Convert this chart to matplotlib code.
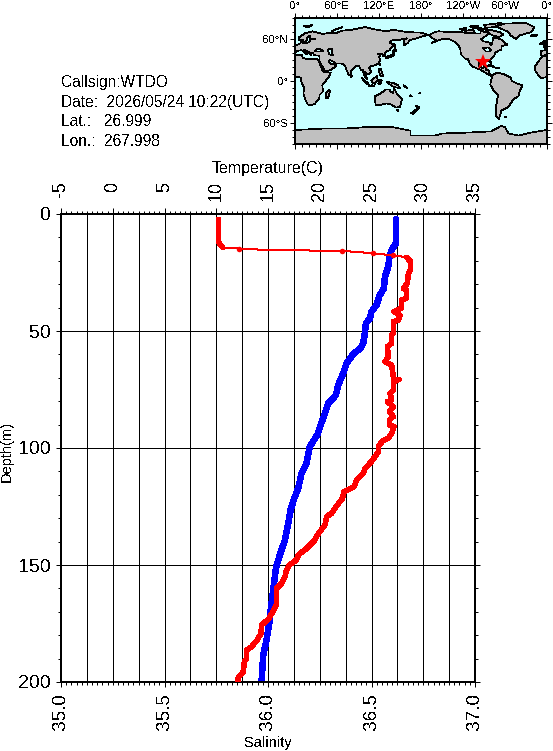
"""
CTD profile plot: temperature and salinity against depth, with a station
map and a small header block above the profile.
"""

import matplotlib
matplotlib.use('Agg')
import matplotlib.pyplot as plt
import numpy as np
from matplotlib.patches import Polygon
from matplotlib.ticker import MultipleLocator

# =============================================================================
# 1. Profile data
# =============================================================================

# Temperature: mixed layer at the surface, sparse thermocline, then the deep part
temp_top = [10.2, 10.2, 10.36, 10.62]
temp_top_depth = [2.3, 11.8, 13.0, 14.25]

temp_mid = [10.62, 12.17, 13.26, 17.45, 22.18, 23.24, 25.18, 27.11, 28.4]
temp_mid_depth = [14.25, 14.8, 15.1, 15.5, 15.8, 16.1, 16.8, 17.7, 18.5]
temp_mid_marks = [12.17, 22.18, 25.18, 27.11]
temp_mid_marks_depth = [14.8, 15.8, 16.8, 17.7]

temp_deep = [28.4, 28.78, 28.78, 28.56, 28.46, 28.07, 28.4, 28.4, 27.9, 27.9,
             27.17, 27.75, 27.59, 27.11, 27.11, 26.95, 26.95, 26.53, 26.63,
             26.3, 26.95, 27.11, 27.11, 27.69, 27.11, 27.11, 26.79, 26.95,
             26.53, 27.11, 26.72, 27.11, 26.72, 26.72, 27.17, 26.95, 26.63,
             26.08, 25.66, 25.66, 25.0, 24.37, 24.2, 23.57, 23.31, 22.34,
             22.2, 21.57, 21.15, 20.67, 20.5, 19.77, 19.54, 18.74, 17.93,
             17.77, 17.06, 16.74, 16.64, 16.32, 15.84, 15.84, 15.58, 15.03,
             14.39, 14.32, 13.97, 13.42, 12.94, 12.94, 12.71, 12.62, 12.13,
             12.07]
temp_deep_depth = [18.5, 20.4, 23.9, 25.4, 29.6, 31.8, 32.5, 36.0, 36.8, 40.3,
                   41.7, 43.2, 45.3, 46.0, 51.0, 51.7, 55.3, 56.7, 61.0,
                   63.1, 64.5, 69.5, 70.7, 70.7, 71.7, 75.2, 76.6, 79.5,
                   80.2, 82.3, 84.5, 86.6, 88.0, 90.2, 90.9, 93.7, 95.9,
                   96.9, 99.4, 101.6, 105.8, 108.7, 110.8, 113.7, 116.5, 118.7,
                   121.5, 125.1, 127.9, 129.3, 132.9, 137.2, 139.3, 142.9, 145.7,
                   147.8, 150.0, 152.8, 155.0, 157.8, 160.0, 166.4, 169.2, 173.2,
                   175.6, 179.2, 182.0, 184.9, 186.3, 189.9, 191.3, 195.6, 198.0,
                   199.8]

salinity = [36.618, 36.618, 36.597, 36.586, 36.581, 36.565, 36.56, 36.54, 36.524,
            36.5, 36.492, 36.473, 36.468, 36.46, 36.447, 36.412, 36.38, 36.363,
            36.339, 36.328, 36.291, 36.275, 36.254, 36.238, 36.202, 36.186,
            36.162, 36.146, 36.127, 36.109, 36.095, 36.082, 36.057, 36.038,
            36.029, 36.017, 36.006, 35.993, 35.977, 35.969]
salinity_depth = [2.3, 12.5, 15.4, 18.9, 22.5, 26.8, 31.8, 34.6, 38.9,
                  41.7, 44.6, 46.7, 51.0, 55.3, 57.4, 59.8, 63.8, 68.1,
                  73.1, 77.4, 80.9, 85.2, 90.2, 94.4, 99.4, 106.6,
                  110.8, 117.2, 121.5, 126.5, 133.6, 139.3, 145.7, 151.4,
                  157.8, 166.4, 174.9, 182.0, 188.4, 199.8]

temp_ticks = [-5, 0, 5, 10, 15, 20, 25, 30, 35]
sal_ticks = [35.0, 35.5, 36.0, 36.5, 37.0]
sal_labels = ['35.0', '35.5', '36.0', '36.5', '37.0']
depth_ticks = [0, 50, 100, 150, 200]

callsign = 'WTDO'
obs_date = '2026/05/24 10:22(UTC)'
lat = 26.999
lon = 267.998

# =============================================================================
# 2. Coastlines (lon, lat), western longitudes negative
# =============================================================================

africa = [(-17, 15), (-17, 21), (-13, 27), (-10, 31), (-6, 36), (-2, 35), (3, 37), (10, 37),
          (11, 33), (15, 32), (20, 31), (25, 32), (32, 31), (34, 28), (37, 21), (39, 15),
          (43, 12), (51, 12), (48, 5), (42, -2), (39, -6), (40, -15), (35, -20), (35, -24),
          (32, -28), (28, -33), (20, -35), (18, -33), (15, -27), (12, -18), (13, -10),
          (9, -1), (9, 4), (5, 6), (-4, 5), (-8, 4), (-13, 9)]
eurasia = [(-9, 37), (-9, 43), (-1, 44), (-4, 48), (2, 51), (8, 54), (8, 57), (11, 54), (20, 55),
           (22, 59), (29, 60), (22, 60), (21, 65), (17, 61), (18, 59), (13, 55), (11, 59), (6, 58),
           (5, 62), (14, 68), (25, 71), (40, 67), (44, 68), (60, 69), (68, 72), (80, 73),
           (100, 77), (113, 74), (130, 71), (140, 73), (160, 70), (180, 69), (190, 66), (180, 63),
           (170, 60), (163, 58), (162, 55), (156, 51), (155, 58), (160, 61), (150, 59), (140, 59),
           (135, 55), (141, 52), (135, 44), (130, 42), (128, 39), (129, 35), (126, 35), (125, 39),
           (121, 39), (118, 39), (122, 37), (120, 34), (122, 30), (119, 25), (113, 22), (108, 21),
           (106, 19), (109, 13), (105, 9), (100, 13), (103, 2), (100, 6), (98, 9), (97, 16),
           (94, 16), (91, 22), (87, 21), (80, 15), (80, 10), (77, 8), (73, 17), (72, 21), (67, 25),
           (57, 25), (56, 27), (50, 30), (48, 29), (51, 24), (56, 24), (59, 22), (52, 16), (43, 13),
           (39, 21), (35, 28), (35, 36), (27, 37), (26, 40), (23, 40), (23, 37), (19, 42), (13, 45),
           (18, 40), (16, 38), (12, 43), (9, 44), (3, 43), (0, 39), (-2, 37), (-5, 36)]
north_america = [(-168, 66), (-160, 70), (-155, 71), (-140, 70), (-125, 70), (-110, 68), (-95, 68),
                 (-95, 72), (-85, 69), (-82, 68), (-94, 60), (-92, 57), (-82, 55), (-80, 51),
                 (-78, 55), (-77, 62), (-70, 61), (-65, 59), (-60, 54), (-56, 52), (-65, 50),
                 (-65, 45), (-70, 43), (-74, 40), (-76, 35), (-81, 31), (-80, 25), (-83, 29),
                 (-90, 29), (-97, 27), (-97, 21), (-91, 18), (-90, 21), (-87, 21), (-88, 16),
                 (-83, 15), (-83, 10), (-78, 9), (-80, 7), (-85, 10), (-95, 16), (-105, 20),
                 (-110, 24), (-113, 31), (-117, 32), (-123, 38), (-124, 47), (-130, 55), (-140, 60),
                 (-150, 60), (-155, 58), (-165, 54), (-158, 58), (-165, 62)]
south_america = [(-78, 8), (-72, 12), (-62, 10), (-52, 5), (-50, 0), (-44, -3), (-35, -6), (-39, -15),
                 (-41, -22), (-48, -26), (-53, -34), (-57, -38), (-65, -42), (-68, -52), (-68, -55),
                 (-73, -50), (-73, -38), (-70, -20), (-76, -14), (-81, -5), (-80, 1)]
greenland = [(-73, 78), (-60, 82), (-30, 83), (-18, 77), (-22, 70), (-40, 65), (-44, 60), (-52, 65), (-55, 70)]
australia = [(114, -22), (122, -18), (130, -12), (136, -12), (136, -15), (140, -17), (142, -11),
             (146, -19), (153, -26), (150, -37), (144, -38), (138, -34), (131, -32), (123, -34), (115, -34)]
antarctica = [(0, -90), (0, -70), (40, -68), (70, -68), (100, -66), (140, -66), (165, -71), (165, -78),
              (200, -78), (210, -75), (240, -74), (280, -72), (295, -64), (300, -66), (305, -75),
              (320, -78), (335, -74), (360, -70), (360, -90)]
islands = [
    [(44, -25), (47, -25), (50, -15), (49, -12), (44, -17)],
    [(173, -35), (178, -38), (175, -41)],
    [(172, -41), (174, -42), (168, -47), (166, -46)],
    [(95, 5), (104, -3), (106, -6), (101, -3)],
    [(109, 1), (117, 7), (118, 1), (114, -4), (110, -2)],
    [(105, -7), (114, -8), (110, -6)],
    [(120, 1), (124, 1), (122, -5), (119, -4)],
    [(131, -1), (141, -3), (147, -6), (150, -10), (143, -9), (138, -7)],
    [(120, 18), (122, 18), (124, 13), (126, 7), (122, 7), (120, 14)],
    [(130, 32), (136, 34), (141, 36), (141, 41), (145, 44), (141, 45), (139, 38), (132, 35)],
    [(142, 54), (143, 49), (142, 46)],
    [(120, 25), (122, 25), (121, 22)],
    [(80, 9), (82, 7), (80, 6)],
    [(-5, 50), (1, 51), (-2, 56), (-4, 58), (-6, 56), (-3, 53)],
    [(-10, 52), (-6, 52), (-6, 55), (-9, 54)],
    [(-24, 65), (-14, 66), (-15, 64), (-22, 64)],
    [(52, 71), (68, 77), (58, 74)],
    [(12, 78), (25, 80), (20, 77)],
    [(-85, 22), (-75, 20), (-80, 23)],
    [(-74, 19), (-68, 19), (-71, 18)],
    [(-80, 73), (-68, 70), (-62, 66), (-68, 63), (-78, 65), (-88, 72)],
    [(-117, 72), (-105, 73), (-103, 69), (-115, 69)],
    [(-90, 80), (-65, 83), (-75, 77), (-88, 76)],
    [(-125, 74), (-115, 76), (-118, 72)],
    [(-100, 76), (-85, 74), (-98, 73)],
    [(-110, 78), (-98, 79), (-104, 75)],
    [(145, -41), (148, -41), (147, -43)],
    [(-61, -51), (-58, -51), (-59, -52)],
    [(165, -20), (167, -22), (164, -21)],
    [(178, -17), (179, -18), (177, -18)],
    [(155, -6), (161, -10), (158, -9)],
]
inland_water = [
    [(28, 42), (31, 46), (37, 45), (41, 42), (35, 42)],
    [(47, 45), (53, 46), (53, 40), (54, 37), (49, 38)],
    [(-92, 47), (-84, 48), (-80, 44), (-83, 42), (-87, 42)],
]

# =============================================================================
# 3. Figure setup (pixel layout converted to figure fractions)
# =============================================================================

plt.rcParams['font.family'] = ['Liberation Sans', 'DejaVu Sans']
plt.rcParams['text.antialiased'] = False
plt.rcParams['lines.antialiased'] = False
plt.rcParams['patch.antialiased'] = False

W, H = 553, 751
PX = 72 / 100  # points per pixel at dpi=100
fig = plt.figure(figsize=(W / 100, H / 100), dpi=100)


def px_axes(x0, y0, x1, y1):
    return fig.add_axes([x0 / W, 1 - y1 / H, (x1 - x0) / W, (y1 - y0) / H])


# =============================================================================
# 4. Profile panel
# =============================================================================

ax_sal = px_axes(61, 214, 475, 682)
ax_sal.set_xlim(35, 37)
ax_sal.set_ylim(200, 0)
ax_sal.plot(salinity, salinity_depth, color='#0000ff', lw=5.5 * PX,
            solid_capstyle='round', solid_joinstyle='round', zorder=3)

ax_sal.set_xticks(sal_ticks)
ax_sal.set_xticklabels(sal_labels, rotation=90, fontsize=13.6, va='top')
ax_sal.xaxis.set_minor_locator(MultipleLocator(0.025))
ax_sal.set_yticks(depth_ticks)
ax_sal.set_yticklabels([str(d) for d in depth_ticks], fontsize=14)
ax_sal.yaxis.set_minor_locator(MultipleLocator(10))
ax_sal.tick_params(axis='x', which='major', length=5 * PX, width=PX, pad=6 * PX)
ax_sal.tick_params(axis='x', which='minor', length=3 * PX, width=PX)
ax_sal.tick_params(axis='y', which='major', left=True, right=True, length=5 * PX, width=PX, pad=5 * PX)
ax_sal.tick_params(axis='y', which='minor', left=True, right=True, length=3 * PX, width=PX)

# Vertical grid every 2.5 degrees / 0.125 psu, horizontal grid on the labelled depths
for gx in np.arange(35, 37.01, 0.125):
    ax_sal.axvline(gx, color='black', lw=PX, zorder=1)
for gy in depth_ticks[1:-1]:
    ax_sal.axhline(gy, color='black', lw=PX, zorder=1)

for sp in ax_sal.spines.values():
    sp.set_linewidth(2 * PX)

ax_temp = ax_sal.twiny()
ax_temp.set_xlim(-5, 35)
ax_temp.xaxis.tick_top()
ax_temp.set_xticks(temp_ticks)
ax_temp.set_xticklabels([str(t) for t in temp_ticks], rotation=90, fontsize=13, va='top')
ax_temp.xaxis.set_minor_locator(MultipleLocator(0.5))
ax_temp.tick_params(axis='x', which='major', length=6 * PX, width=PX, pad=27 * PX)
ax_temp.tick_params(axis='x', which='minor', length=3 * PX, width=PX)
for sp in ax_temp.spines.values():
    sp.set_linewidth(2 * PX)

ax_temp.plot(temp_top, temp_top_depth, color='#ff0000', lw=4.5 * PX,
             solid_capstyle='round', solid_joinstyle='round', zorder=4)
ax_temp.plot(temp_mid, temp_mid_depth, color='#ff0000', lw=PX, zorder=4)
ax_temp.plot(temp_mid_marks, temp_mid_marks_depth, 'o', color='#ff0000', ms=5.5 * PX, mew=0, zorder=4)
ax_temp.plot(temp_deep, temp_deep_depth, color='#ff0000', lw=4.5 * PX,
             solid_capstyle='round', solid_joinstyle='round', zorder=4)

fig.text(268 / W, 1 - 169 / H, 'Temperature(C)', ha='center', va='center', fontsize=11.5)
fig.text(268 / W, 1 - 743 / H, 'Salinity', ha='center', va='center', fontsize=10.5)
fig.text(7 / W, 1 - 451 / H, 'Depth(m)', ha='center', va='center', rotation=90, fontsize=10.5)

# =============================================================================
# 5. Header block
# =============================================================================

header = [(82, f'Callsign:{callsign}'),
          (102, f'Date:  {obs_date}'),
          (122, f'Lat.:   {lat:.3f}'),
          (141, f'Lon.:  {lon:.3f}')]
for y_px, line in header:
    fig.text(61 / W, 1 - y_px / H, line, ha='left', va='center', fontsize=11.2)

# =============================================================================
# 6. Station map
# =============================================================================

ax_map = px_axes(295, 18, 547, 144)
ax_map.set_xlim(0, 360)
ax_map.set_ylim(-90, 90)
ax_map.set_facecolor('#c8ffff')

land = [africa, eurasia, north_america, south_america, greenland, australia, antarctica] + islands
for shape in land:
    for offset in (0, 360):
        pts = [(x + offset, y) for x, y in shape]
        ax_map.add_patch(Polygon(pts, closed=True, fc='#c0c0c0', ec='black', lw=0.5, zorder=2))
for shape in inland_water:
    for offset in (0, 360):
        pts = [(x + offset, y) for x, y in shape]
        ax_map.add_patch(Polygon(pts, closed=True, fc='#c8ffff', ec='black', lw=0.5, zorder=3))

ax_map.plot([lon], [lat], marker='*', color='#ff0000', ms=12, mew=0, zorder=5)

ax_map.set_xticks([0, 60, 120, 180, 240, 300, 360])
ax_map.set_xticklabels(['0°', '60°E', '120°E', '180°', '120°W', '60°W', '0°'], fontsize=8.2)
ax_map.set_yticks([-60, 0, 60])
ax_map.set_yticklabels(['60°S', '0°', '60°N'], fontsize=8.2)
ax_map.xaxis.set_minor_locator(MultipleLocator(10))
ax_map.yaxis.set_minor_locator(MultipleLocator(10))
ax_map.tick_params(which='major', top=True, bottom=True, left=True, right=True, labeltop=True,
                   labelbottom=False, length=5 * PX, width=PX, pad=2 * PX)
ax_map.tick_params(which='minor', top=True, bottom=True, left=True, right=True, length=3 * PX, width=PX)
for sp in ax_map.spines.values():
    sp.set_linewidth(2 * PX)

fig.savefig('out.png', dpi=100)
